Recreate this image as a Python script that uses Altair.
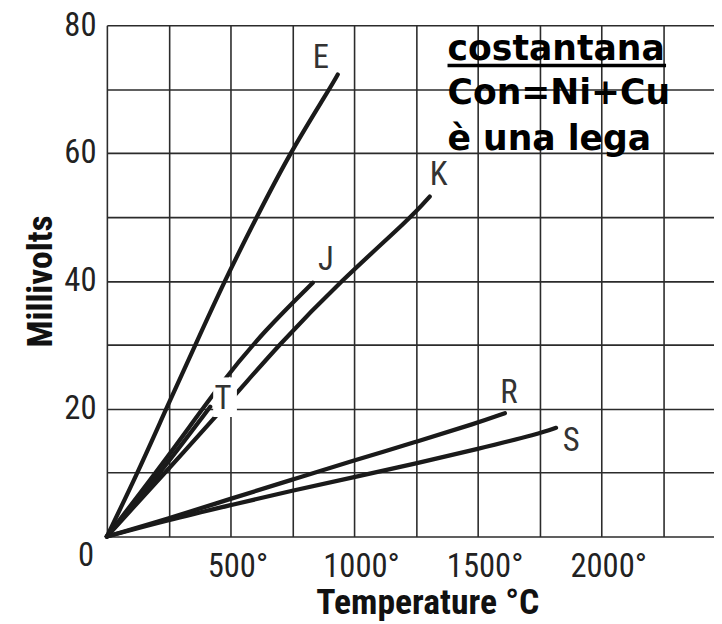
import altair as alt
import pandas as pd

# ---- thermocouple curves (temperature in °C, output in mV) ----
E_T = [0, 125, 240, 358, 476, 606, 740, 900, 934]
E_MV = [0, 10, 20, 30, 40, 50, 60, 70, 72.3]
J_T = [0, 250, 470, 640, 833]
J_MV = [0, 12.6, 24.5, 32.3, 39.7]
K_T = [0, 250, 530, 686, 946, 1233, 1306]
K_MV = [0, 10.6, 22.6, 29.6, 40.0, 50.0, 53.2]
T_T = [0, 200, 418]
T_MV = [0, 9.1, 20.3]
R_T = [0, 250, 500, 750, 1000, 1250, 1500, 1610]
R_MV = [0, 2.8, 5.9, 8.9, 11.9, 14.8, 17.8, 19.3]
S_T = [0, 250, 500, 750, 1000, 1250, 1500, 1750, 1817]
S_MV = [0, 2.6, 4.9, 7.2, 9.3, 11.4, 13.7, 16.1, 17.0]

# ---- curve labels ----
LABELS = ["E", "K", "J", "T", "R", "S"]
LABEL_T = [866, 1342, 886, 470, 1626, 1878]
LABEL_MV = [74.9, 56.6, 43.2, 21.5, 22.4, 15.0]

# ---- note ----
NOTE_LINES = ["costantana", "Con=Ni+Cu", "è una lega"]
NOTE_T = [1378, 1378, 1378]
NOTE_MV = [74.6, 67.7, 60.5]
UNDERLINE_T = [1378]
UNDERLINE_T2 = [2262]
UNDERLINE_MV = [73.7]

# white patch behind the "T" label
PATCH_T = [430]
PATCH_T2 = [526]
PATCH_MV = [18.7]
PATCH_MV2 = [24.9]

X_TICKS = [0, 250, 500, 750, 1000, 1250, 1500, 1750, 2000, 2250]
Y_TICKS = [0, 10, 20, 30, 40, 50, 60, 70, 80]

rows = []
for name, ts, vs in [("E", E_T, E_MV), ("J", J_T, J_MV), ("K", K_T, K_MV),
                     ("T", T_T, T_MV), ("R", R_T, R_MV), ("S", S_T, S_MV)]:
    for t, v in zip(ts, vs):
        rows.append({"series": name, "temp": t, "mv": v})
curves = pd.DataFrame(rows)
labels = pd.DataFrame({"lab": LABELS, "temp": LABEL_T, "mv": LABEL_MV})
note = pd.DataFrame({"txt": NOTE_LINES, "temp": NOTE_T, "mv": NOTE_MV})
uline = pd.DataFrame({"temp": UNDERLINE_T, "t2": UNDERLINE_T2, "mv": UNDERLINE_MV})
patch = pd.DataFrame({"temp": PATCH_T, "t2": PATCH_T2, "mv": PATCH_MV, "m2": PATCH_MV2})
zero = pd.DataFrame({"temp": [0], "mv": [0], "lab": ["0"]})

NARROW = "Liberation Sans Narrow, Roboto Condensed, Liberation Sans, sans-serif"

xs = alt.Scale(domain=[0, 2456], nice=False)
ys = alt.Scale(domain=[0, 80], nice=False)

x_axis = alt.Axis(
    values=X_TICKS,
    labelExpr="datum.value % 500 == 0 && datum.value > 0 ? datum.value + '°' : ''",
    grid=True, ticks=False, tickSize=0, domain=False,
    labelFont=NARROW, labelFontSize=33, labelColor="#222",
    labelBaseline="alphabetic", labelPadding=40, labelOffset=7,
    labelFlush=False, labelOverlap=False,
    title="Temperature °C", titleFont=NARROW, titleFontSize=36,
    titleFontWeight="bold", titleColor="#111",
    titleX=324, titleY=78, titleBaseline="alphabetic", titleAlign="center",
)
y_axis = alt.Axis(
    values=Y_TICKS,
    labelExpr="datum.value % 20 == 0 && datum.value > 0 ? datum.value : ''",
    grid=True, ticks=False, tickSize=0, domain=False,
    labelFont=NARROW, labelFontSize=33, labelColor="#222",
    labelPadding=11, labelFlush=False, labelOverlap=False,
    title="Millivolts", titleFont=NARROW, titleFontSize=36,
    titleFontWeight="bold", titleColor="#111",
    titleX=-56, titleY=258.5, titleBaseline="alphabetic", titleAlign="center",
    titleAngle=270,
)

X = alt.X("temp:Q", scale=xs, axis=x_axis)
Y = alt.Y("mv:Q", scale=ys, axis=y_axis)

lines = alt.Chart(curves).mark_line(
    interpolate="basis", color="#1a1a1a", strokeWidth=4.3, strokeCap="round"
).encode(x=X, y=Y, detail="series:N")

white = alt.Chart(patch).mark_rect(color="white").encode(
    x=X, x2="t2:Q", y=Y, y2="m2:Q",
)

curve_labels = alt.Chart(labels).mark_text(
    font=NARROW, fontSize=33, color="#333", baseline="middle", align="center"
).encode(x=X, y=Y, text="lab:N")

zero_label = alt.Chart(zero).mark_text(
    font=NARROW, fontSize=33, color="#222", baseline="alphabetic",
    align="right", dx=-13, dy=30
).encode(x=X, y=Y, text="lab:N")

note_text = alt.Chart(note).mark_text(
    font="DejaVu Sans", fontSize=35, fontWeight="bold", color="#000",
    baseline="alphabetic", align="left"
).encode(x=X, y=Y, text="txt:N")

underline = alt.Chart(uline).mark_rule(color="#000", strokeWidth=3.5).encode(
    x=X, x2="t2:Q", y=Y,
)

chart = alt.layer(lines, white, curve_labels, zero_label, note_text, underline).properties(
    width=614, height=517,
    autosize=alt.AutoSizeParams(type="none"),
    padding={"left": 100, "top": 14, "right": 0, "bottom": 84},
).configure_view(strokeWidth=0).configure_axis(
    gridColor="#2b2b2b", gridWidth=1.6, gridOpacity=1
)

chart.save("out.html", embed_options={"renderer": "svg", "actions": False})
